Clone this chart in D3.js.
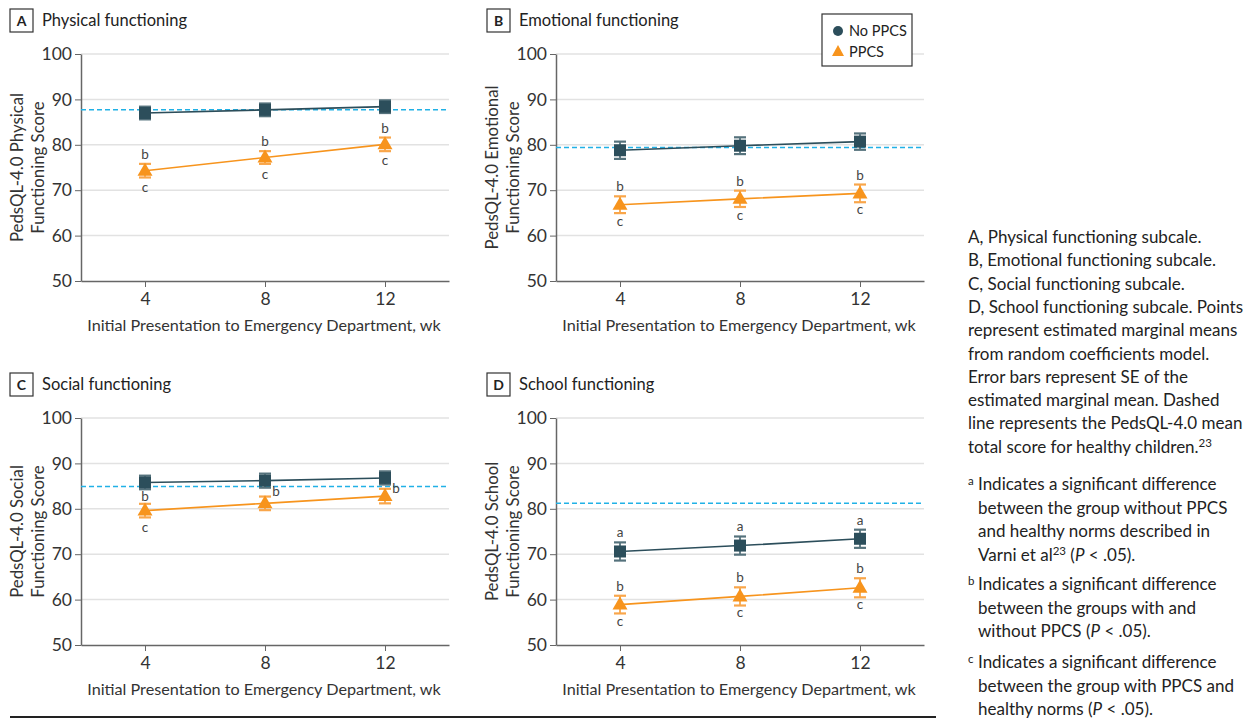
<!DOCTYPE html>
<html>
<head>
<meta charset="utf-8">
<script src="https://cdn.jsdelivr.net/npm/d3@7"></script>
<style>
  body { margin: 0; background: #fff; }
  svg { font-family: Lato, "Noto Sans", sans-serif; }
</style>
</head>
<body>
<div id="chart"></div>
<script>
// data
var weeks = [4, 8, 12];
var panelLetters = ["A", "B", "C", "D"];
var panelTitles = ["Physical functioning", "Emotional functioning", "Social functioning", "School functioning"];
var yLabels = [
  ["PedsQL-4.0 Physical", "Functioning Score"],
  ["PedsQL-4.0 Emotional", "Functioning Score"],
  ["PedsQL-4.0 Social", "Functioning Score"],
  ["PedsQL-4.0 School", "Functioning Score"]
];
var noPpcsMean = [[87.0, 87.7, 88.4], [78.8, 79.8, 80.7], [85.8, 86.2, 86.8], [70.6, 71.9, 73.4]];
var noPpcsSE   = [[1.4, 1.4, 1.4], [1.9, 1.85, 1.8], [1.5, 1.55, 1.45], [2.0, 2.0, 2.0]];
var ppcsMean   = [[74.3, 77.2, 80.1], [66.8, 68.1, 69.3], [79.6, 81.2, 82.8], [58.9, 60.7, 62.6]];
var ppcsSE     = [[1.5, 1.4, 1.5], [1.85, 1.8, 1.95], [1.5, 1.5, 1.6], [1.95, 2.0, 2.1]];
var healthyNorm = [87.7, 79.4, 84.9, 81.2];
var yTicks = [50, 60, 70, 80, 90, 100];
// significance letters: panel index, series, week index, letter, where
var notes = [
  [0, "ppcs", 0, "b", "above"], [0, "ppcs", 1, "b", "above"], [0, "ppcs", 2, "b", "above"],
  [0, "ppcs", 0, "c", "below"], [0, "ppcs", 1, "c", "below"], [0, "ppcs", 2, "c", "below"],
  [1, "ppcs", 0, "b", "above"], [1, "ppcs", 1, "b", "above"], [1, "ppcs", 2, "b", "above"],
  [1, "ppcs", 0, "c", "below"], [1, "ppcs", 1, "c", "below"], [1, "ppcs", 2, "c", "below"],
  [2, "no", 0, "b", "under"], [2, "no", 1, "b", "right"], [2, "no", 2, "b", "right"],
  [2, "ppcs", 0, "c", "below"],
  [3, "no", 0, "a", "above"], [3, "no", 1, "a", "above"], [3, "no", 2, "a", "above"],
  [3, "ppcs", 0, "b", "above"], [3, "ppcs", 1, "b", "above"], [3, "ppcs", 2, "b", "above"],
  [3, "ppcs", 0, "c", "below"], [3, "ppcs", 1, "c", "below"], [3, "ppcs", 2, "c", "below"]
];
var captionLines = [
  "A, Physical functioning subcale.",
  "B, Emotional functioning subcale.",
  "C, Social functioning subcale.",
  "D, School functioning subcale. Points",
  "represent estimated marginal means",
  "from random coefficients model.",
  "Error bars represent SE of the",
  "estimated marginal mean. Dashed",
  "line represents the PedsQL-4.0 mean",
  "total score for healthy children.|23"
];
var footnotes = [
  ["a", ["Indicates a significant difference", "between the group without PPCS", "and healthy norms described in", "Varni et al|23| (|P| < .05)."]],
  ["b", ["Indicates a significant difference", "between the groups with and", "without PPCS (|P| < .05)."]],
  ["c", ["Indicates a significant difference", "between the group with PPCS and", "healthy norms (|P| < .05)."]]
];

var W = 1257, H = 721;
var darkCol = "#2c4e5b", capCol = "#55727c", orange = "#f7941d", orangeBar = "#f9a64a", normCol = "#21b1e6";
var offsets = [[0, 0], [475, 0], [0, 364], [475, 364]];
var plotL = 81, plotR = 449, plotT = 54, plotB = 281;

var svg = d3.select("#chart").append("svg").attr("width", W).attr("height", H);

var x = d3.scaleLinear().domain([4 - 64 / 30, 12 + 64 / 30]).range([plotL, plotR]);
var y = d3.scaleLinear().domain([50, 100]).range([plotB, plotT]);

panelLetters.forEach(function(letter, p) {
  var g = svg.append("g").attr("transform", "translate(" + offsets[p][0] + "," + offsets[p][1] + ")");
  var bx = p % 2 === 0 ? 10 : 12;

  // panel letter box + title
  g.append("rect").attr("x", bx).attr("y", 9).attr("width", 23).attr("height", 23)
    .attr("fill", "none").attr("stroke", "#333").attr("stroke-width", 1.2);
  g.append("text").attr("x", bx + 11.5).attr("y", 26).attr("text-anchor", "middle")
    .attr("font-size", 14).attr("font-weight", "bold").attr("fill", "#222").text(letter);
  g.append("text").attr("x", bx + 32).attr("y", 26).attr("font-size", 16.5).attr("fill", "#222").text(panelTitles[p]);

  // grid
  g.selectAll(".grid").data(yTicks.slice(1)).enter().append("line")
    .attr("x1", plotL).attr("x2", plotR)
    .attr("y1", function(d) { return y(d); }).attr("y2", function(d) { return y(d); })
    .attr("stroke", "#e2e2e2").attr("stroke-width", 1.5);

  // axes
  var ya = g.append("g").attr("transform", "translate(" + plotL + ",0)")
    .call(d3.axisLeft(y).tickValues(yTicks).tickSize(6).tickSizeOuter(0).tickPadding(3));
  var xa = g.append("g").attr("transform", "translate(0," + plotB + ")")
    .call(d3.axisBottom(x).tickValues(weeks).tickSize(6).tickSizeOuter(0).tickPadding(6));
  [ya, xa].forEach(function(a) {
    a.select(".domain").attr("stroke", "#666").attr("stroke-width", 1.5);
    a.selectAll(".tick line").attr("stroke", "#666");
    a.selectAll(".tick text").attr("font-size", 17.5).attr("fill", "#333").attr("font-family", "Lato, sans-serif");
  });

  g.append("text").attr("x", (plotL + plotR) / 2 - 1).attr("y", 331).attr("text-anchor", "middle")
    .attr("font-size", 16.2).attr("fill", "#333").text("Initial Presentation to Emergency Department, wk");

  var yl = g.append("text").attr("transform", "translate(23," + ((plotT + plotB) / 2) + ") rotate(-90)")
    .attr("text-anchor", "middle").attr("font-size", 16.8).attr("fill", "#333");
  yl.append("tspan").attr("x", 0).attr("dy", 0).text(yLabels[p][0]);
  yl.append("tspan").attr("x", 0).attr("dy", 21).text(yLabels[p][1]);

  // healthy norm
  g.append("line").attr("x1", plotL).attr("x2", plotR)
    .attr("y1", y(healthyNorm[p])).attr("y2", y(healthyNorm[p]))
    .attr("stroke", normCol).attr("stroke-width", 1.5).attr("stroke-dasharray", "5,3");

  var line = d3.line().x(function(d, i) { return x(weeks[i]); }).y(function(d) { return y(d); });

  // no PPCS series
  g.append("path").attr("d", line(noPpcsMean[p])).attr("fill", "none").attr("stroke", darkCol).attr("stroke-width", 1.6);
  noPpcsMean[p].forEach(function(m, i) {
    var cx = x(weeks[i]), lo = y(m - noPpcsSE[p][i]), hi = y(m + noPpcsSE[p][i]);
    g.append("line").attr("x1", cx).attr("x2", cx).attr("y1", lo).attr("y2", hi).attr("stroke", capCol).attr("stroke-width", 1.8);
    [lo, hi].forEach(function(v) {
      g.append("line").attr("x1", cx - 6).attr("x2", cx + 6).attr("y1", v).attr("y2", v).attr("stroke", capCol).attr("stroke-width", 2.2);
    });
    g.append("rect").attr("x", cx - 6).attr("y", y(m) - 6).attr("width", 12).attr("height", 12).attr("fill", darkCol);
  });

  // PPCS series
  g.append("path").attr("d", line(ppcsMean[p])).attr("fill", "none").attr("stroke", orange).attr("stroke-width", 1.6);
  ppcsMean[p].forEach(function(m, i) {
    var cx = x(weeks[i]), lo = y(m - ppcsSE[p][i]), hi = y(m + ppcsSE[p][i]);
    g.append("line").attr("x1", cx).attr("x2", cx).attr("y1", lo).attr("y2", hi).attr("stroke", orangeBar).attr("stroke-width", 1.8);
    [lo, hi].forEach(function(v) {
      g.append("line").attr("x1", cx - 6).attr("x2", cx + 6).attr("y1", v).attr("y2", v).attr("stroke", orangeBar).attr("stroke-width", 2.2);
    });
    var cy = y(m);
    g.append("path").attr("d", "M" + cx + "," + (cy - 8) + "L" + (cx + 7.5) + "," + (cy + 5) + "L" + (cx - 7.5) + "," + (cy + 5) + "Z")
      .attr("fill", orange);
  });
});

// significance letters
notes.forEach(function(n) {
  var p = n[0], i = n[2];
  var mean = n[1] === "no" ? noPpcsMean[p][i] : ppcsMean[p][i];
  var se = n[1] === "no" ? noPpcsSE[p][i] : ppcsSE[p][i];
  var tx = x(weeks[i]), ty;
  if (n[4] === "above") ty = y(mean + se) - 5;
  else if (n[4] === "below") ty = y(mean) + 21;
  else if (n[4] === "under") ty = y(mean - se) + 12;
  else { tx += 11; ty = y(mean - se) + 8; }
  svg.append("text").attr("x", tx + offsets[p][0]).attr("y", ty + offsets[p][1])
    .attr("text-anchor", "middle").attr("font-size", 13.5).attr("fill", "#444").text(n[3]);
});

// legend
var lg = svg.append("g").attr("transform", "translate(822,14)");
lg.append("rect").attr("width", 90).attr("height", 52).attr("fill", "#fff").attr("stroke", "#333").attr("stroke-width", 1.2);
lg.append("circle").attr("cx", 16).attr("cy", 17).attr("r", 5).attr("fill", darkCol);
lg.append("text").attr("x", 27).attr("y", 22).attr("font-size", 14.5).attr("fill", "#222").text("No PPCS");
lg.append("path").attr("d", "M16,31L22,42L10,42Z").attr("fill", orange);
lg.append("text").attr("x", 27).attr("y", 43).attr("font-size", 14.5).attr("fill", "#222").text("PPCS");

// caption
function richText(sel, str) {
  // pieces separated by |: odd pieces are superscript (digits) or italic (P)
  str.split("|").forEach(function(part, k) {
    var t = sel.append("tspan").text(part);
    if (k % 2 === 1) {
      if (part === "P") t.attr("font-style", "italic");
      else t.attr("font-size", 11.5).attr("baseline-shift", "super");
    }
  });
}
var cap = svg.append("g").attr("font-size", 17).attr("fill", "#222");
captionLines.forEach(function(s, k) {
  richText(cap.append("text").attr("x", 968).attr("y", 243 + k * 23.3), s);
});
var fy = [490, 590, 668];
footnotes.forEach(function(f, k) {
  cap.append("text").attr("x", 968).attr("y", fy[k] - 5).attr("font-size", 11.5).text(f[0]);
  f[1].forEach(function(s, j) {
    richText(cap.append("text").attr("x", 978).attr("y", fy[k] + j * 23.5), s);
  });
});

svg.append("line").attr("x1", 10).attr("x2", 936).attr("y1", 717).attr("y2", 717).attr("stroke", "#222").attr("stroke-width", 2);
</script>
</body>
</html>
